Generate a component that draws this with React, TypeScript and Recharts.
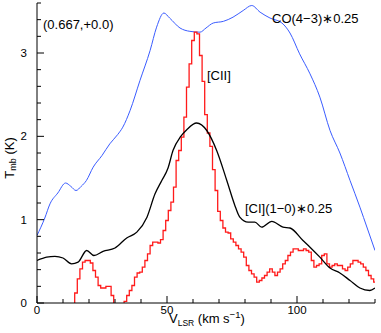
import React from 'react';
import { LineChart, Line, XAxis, YAxis } from 'recharts';

// CO(4-3)*0.25 (blue)
const coVelocity = [0, 3, 5, 8, 11, 13, 15, 17, 19, 21.6, 25, 28, 31, 33, 35.8, 39.6, 43.5, 46, 48.8, 51, 55, 58.8, 62.7, 65, 67.8, 71.7, 75.4, 79.3, 82.6, 85.8, 89.6, 94.2, 97.3, 101, 105, 108.8, 112.7, 116.5, 120.4, 124.2, 127, 130];
const coTemp = [0.81, 1.02, 1.19, 1.32, 1.44, 1.4, 1.35, 1.4, 1.47, 1.63, 1.77, 1.91, 2.02, 2.11, 2.31, 2.67, 3.03, 3.31, 3.48, 3.42, 3.3, 3.26, 3.25, 3.3, 3.36, 3.38, 3.43, 3.51, 3.57, 3.49, 3.42, 3.36, 3.24, 2.99, 2.75, 2.47, 2.07, 1.8, 1.47, 1.15, 0.9, 0.63];

// [CI](1-0)*0.25 (black)
const ciVelocity = [0, 3.7, 6.9, 10, 13.3, 15.8, 19.1, 21.9, 25.4, 30, 34.5, 38.4, 42.3, 45.4, 48, 50.4, 52.3, 55.3, 57.6, 61.4, 65.3, 69.1, 73, 76, 78, 81.2, 83.8, 86.4, 90.3, 94.6, 97.3, 102.3, 105, 108.8, 112.7, 116.5, 120.4, 124.2, 128, 130];
const ciTemp = [0.51, 0.55, 0.56, 0.54, 0.47, 0.49, 0.63, 0.57, 0.62, 0.66, 0.78, 0.85, 1.03, 1.31, 1.47, 1.62, 1.83, 2.0, 2.08, 2.16, 2.07, 1.83, 1.47, 1.18, 1.03, 0.97, 0.97, 0.91, 0.98, 0.91, 0.9, 0.75, 0.67, 0.55, 0.42, 0.36, 0.27, 0.18, 0.15, 0.18];

// [CII] (red histogram, 1 km/s bins)
const ciiVelocity = [
  0, 1, 2, 3, 4, 5, 6, 7, 8, 9, 10, 11, 12, 13, 14, 15, 16, 17, 18, 19,
  20, 21, 22, 23, 24, 25, 26, 27, 28, 29, 30, 31, 32, 33, 34, 35, 36, 37, 38, 39,
  40, 41, 42, 43, 44, 45, 46, 47, 48, 49, 50, 51, 52, 53, 54, 55, 56, 57, 58, 59,
  60, 61, 62, 63, 64, 65, 66, 67, 68, 69, 70, 71, 72, 73, 74, 75, 76, 77, 78, 79,
  80, 81, 82, 83, 84, 85, 86, 87, 88, 89, 90, 91, 92, 93, 94, 95, 96, 97, 98, 99,
  100, 101, 102, 103, 104, 105, 106, 107, 108, 109, 110, 111, 112, 113, 114, 115, 116, 117, 118, 119,
  120, 121, 122, 123, 124, 125, 126, 127, 128, 129, 130,
];
const ciiTemp = [
  -0.3, -0.3, -0.35, -0.3, -0.3, -0.25, -0.3, -0.3, -0.25, -0.2, -0.25, -0.2, -0.2, -0.15, -0.1, 0.12, 0.29, 0.41, 0.49, 0.51,
  0.51, 0.48, 0.39, 0.31, 0.21, 0.18, 0.18, 0.2, 0.2, 0.09, -0.1, -0.2, -0.2, -0.1, 0.02, 0.09, 0.15, 0.21, 0.31, 0.36,
  0.37, 0.43, 0.51, 0.59, 0.69, 0.73, 0.73, 0.72, 0.76, 0.87, 0.99, 1.11, 1.21, 1.39, 1.71, 1.83, 1.99, 2.23, 2.59, 2.87,
  3.15, 3.25, 3.23, 2.97, 2.66, 2.26, 2.04, 1.88, 1.6, 1.35, 1.1, 0.99, 0.9, 0.85, 0.84, 0.77, 0.73, 0.69, 0.65, 0.61,
  0.55, 0.45, 0.39, 0.35, 0.31, 0.25, 0.27, 0.3, 0.33, 0.37, 0.41, 0.37, 0.33, 0.37, 0.41, 0.47, 0.51, 0.57, 0.61, 0.65,
  0.65, 0.63, 0.63, 0.65, 0.63, 0.61, 0.51, 0.43, 0.45, 0.47, 0.57, 0.59, 0.47, 0.43, 0.45, 0.47, 0.45, 0.45, 0.41, 0.39,
  0.43, 0.47, 0.51, 0.51, 0.49, 0.47, 0.43, 0.39, 0.33, 0.29, 0.25,
];

const xTicks = [0, 10, 20, 30, 40, 50, 60, 70, 80, 90, 100, 110, 120, 130];
const xMajor = [0, 50, 100];
const yTicks = [0, 0.2, 0.4, 0.6, 0.8, 1, 1.2, 1.4, 1.6, 1.8, 2, 2.2, 2.4, 2.6, 2.8, 3, 3.2, 3.4, 3.6];
const yMajor = [0, 1, 2, 3];

const coData = coVelocity.map((v, i) => ({ v, t: coTemp[i] }));
const ciData = ciVelocity.map((v, i) => ({ v, t: ciTemp[i] }));
const ciiData = ciiVelocity.map((v, i) => ({ v, t: ciiTemp[i] }));

const FONT = '"Liberation Sans", Arial, Helvetica, sans-serif';
const isMajorY = (v: number) => yMajor.some((m) => Math.abs(m - v) < 1e-6);

const BottomTick = (props: any) => {
  const { x, y, payload } = props;
  const major = xMajor.includes(payload.value);
  return (
    <g>
      <line x1={x} y1={y} x2={x} y2={y - (major ? 7 : 4)} stroke="#000" strokeWidth={1} />
      {major && (
        <text x={x} y={y + 11} textAnchor="middle" fontSize={11.5} fontFamily={FONT} fill="#000">
          {payload.value}
        </text>
      )}
    </g>
  );
};
const TopTick = (props: any) => {
  const { x, y, payload } = props;
  const major = xMajor.includes(payload.value);
  return <line x1={x} y1={y} x2={x} y2={y + (major ? 7 : 4)} stroke="#000" strokeWidth={1} />;
};
const LeftTick = (props: any) => {
  const { x, y, payload } = props;
  const major = isMajorY(payload.value);
  return (
    <g>
      <line x1={x} y1={y} x2={x + (major ? 7 : 4)} y2={y} stroke="#000" strokeWidth={1} />
      {major && (
        <text x={x - 10} y={y + 4} textAnchor="end" fontSize={11.5} fontFamily={FONT} fill="#000">
          {Math.round(payload.value)}
        </text>
      )}
    </g>
  );
};
const RightTick = (props: any) => {
  const { x, y, payload } = props;
  const major = isMajorY(payload.value);
  return <line x1={x} y1={y} x2={x - (major ? 7 : 4)} y2={y} stroke="#000" strokeWidth={1} />;
};

export default function App() {
  return (
    <div style={{ position: 'absolute', left: 0, top: 0, width: 381, height: 333, background: '#fff' }}>
      <LineChart width={381} height={333} margin={{ top: 3, right: 6, bottom: 0, left: 0 }}>
        <XAxis
          xAxisId="b"
          type="number"
          dataKey="v"
          orientation="bottom"
          domain={[0, 130]}
          allowDataOverflow
          ticks={xTicks}
          height={30}
          tickSize={0}
          tickMargin={0}
          tickLine={false}
          axisLine={{ stroke: '#000' }}
          tick={<BottomTick />}
          interval={0}
        />
        <XAxis
          xAxisId="t"
          type="number"
          dataKey="v"
          orientation="top"
          domain={[0, 130]}
          allowDataOverflow
          ticks={xTicks}
          height={0}
          tickSize={0}
          tickMargin={0}
          tickLine={false}
          axisLine={{ stroke: '#000' }}
          tick={<TopTick />}
          interval={0}
        />
        <YAxis
          yAxisId="l"
          type="number"
          orientation="left"
          domain={[0, 3.6]}
          allowDataOverflow
          ticks={yTicks}
          width={37}
          tickSize={0}
          tickMargin={0}
          tickLine={false}
          axisLine={{ stroke: '#000' }}
          tick={<LeftTick />}
          interval={0}
        />
        <YAxis
          yAxisId="r"
          type="number"
          orientation="right"
          domain={[0, 3.6]}
          allowDataOverflow
          ticks={yTicks}
          width={0}
          tickSize={0}
          tickMargin={0}
          tickLine={false}
          axisLine={{ stroke: '#000' }}
          tick={<RightTick />}
          interval={0}
        />
        <Line
          xAxisId="b"
          yAxisId="l"
          data={coData}
          dataKey="t"
          type="monotone"
          stroke="#3a5cff"
          strokeWidth={1}
          dot={false}
          isAnimationActive={false}
        />
        <Line
          xAxisId="b"
          yAxisId="l"
          data={ciiData}
          dataKey="t"
          type="step"
          stroke="#ff1a1a"
          strokeWidth={1.3}
          dot={false}
          isAnimationActive={false}
        />
        <Line
          xAxisId="b"
          yAxisId="l"
          data={ciData}
          dataKey="t"
          type="monotone"
          stroke="#000"
          strokeWidth={1.3}
          dot={false}
          isAnimationActive={false}
        />
      </LineChart>
      <svg
        width={381}
        height={333}
        style={{ position: 'absolute', left: 0, top: 0, pointerEvents: 'none' }}
        fontFamily={FONT}
      >
        <text x={43} y={29} fontSize={13} fill="#000">(0.667,+0.0)</text>
        <text x={272} y={23} fontSize={13} fill="#000">CO(4−3)∗0.25</text>
        <text x={207} y={80} fontSize={13} fill="#000">[CII]</text>
        <text x={245} y={213} fontSize={13} fill="#000">[CI](1−0)∗0.25</text>
        <text transform="translate(14,158) rotate(-90)" textAnchor="middle" fontSize={13} fill="#000">
          T<tspan fontSize={9} dy={2}>mb</tspan>
          <tspan dy={-2}>{'  (K)'}</tspan>
        </text>
        <text x={169} y={323} fontSize={13} fill="#000">
          V<tspan fontSize={8.5} dy={3}>LSR</tspan>
          <tspan dy={-3}> (km s</tspan>
          <tspan fontSize={9.5} dy={-5}>−1</tspan>
          <tspan dy={5}>)</tspan>
        </text>
      </svg>
    </div>
  );
}
